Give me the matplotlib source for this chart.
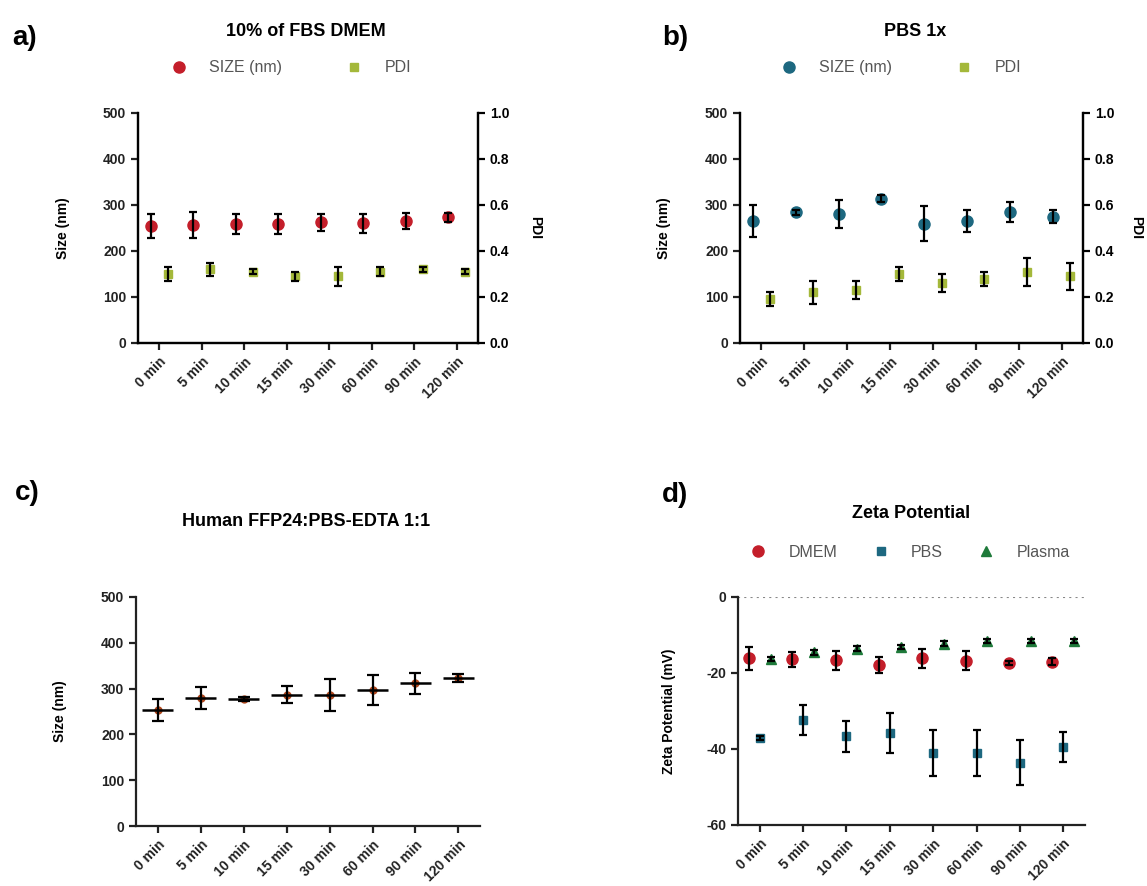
# -*- coding: utf-8 -*-
# Nanoparticle stability: size, PDI and zeta potential over time
import numpy as np
import matplotlib.pyplot as plt
from matplotlib.lines import Line2D

plt.rcParams['font.family'] = ['Liberation Sans', 'DejaVu Sans']
plt.rcParams['font.weight'] = 'bold'
plt.rcParams['axes.labelweight'] = 'bold'

times = ['0 min', '5 min', '10 min', '15 min', '30 min', '60 min', '90 min', '120 min']

# a) 10% FBS DMEM
dmem_size = [255, 256, 258, 258, 262, 260, 265, 273]
dmem_size_sd = [26, 28, 22, 22, 18, 20, 18, 10]
dmem_pdi = [0.30, 0.32, 0.31, 0.29, 0.29, 0.31, 0.32, 0.31]
dmem_pdi_sd = [0.03, 0.03, 0.01, 0.02, 0.04, 0.02, 0.01, 0.01]

# b) PBS 1x
pbs_size = [265, 284, 281, 314, 259, 265, 285, 275]
pbs_size_sd = [35, 5, 30, 8, 38, 24, 22, 15]
pbs_pdi = [0.19, 0.22, 0.23, 0.30, 0.26, 0.28, 0.31, 0.29]
pbs_pdi_sd = [0.03, 0.05, 0.04, 0.03, 0.04, 0.03, 0.06, 0.06]

# c) human plasma
plasma_size = [254, 280, 277, 287, 287, 297, 312, 323]
plasma_size_sd = [24, 24, 5, 19, 35, 33, 23, 8]

# d) zeta potential (mV)
zeta_dmem = [-16.1, -16.4, -16.6, -17.9, -16.1, -16.8, -17.4, -17.0]
zeta_dmem_sd = [3, 2, 2.5, 2, 2.5, 2.5, 0.5, 1]
zeta_pbs = [-37.1, -32.3, -36.7, -35.7, -41.0, -41.0, -43.6, -39.5]
zeta_pbs_sd = [0.5, 4, 4, 5.3, 6, 6, 6, 4]
zeta_plasma = [-16.4, -14.6, -13.6, -13.1, -12.3, -11.6, -11.6, -11.6]
zeta_plasma_sd = [0.5, 0.6, 0.6, 0.6, 0.6, 0.6, 0.6, 0.6]

red = '#c41e2a'
teal = '#1d6880'
olive = '#a4b83a'
green = '#1e7a3a'
brown = '#b24a1f'

W, H = 1147, 886
fig = plt.figure(figsize=(W / 100, H / 100), dpi=100)
x = np.arange(len(times))


def px_axes(left, top, right, bottom):
    # axes box given in pixel coords of the picture
    return fig.add_axes([left / W, 1 - bottom / H, (right - left) / W, (bottom - top) / H])


def style(ax, right=False):
    ax.spines['top'].set_visible(False)
    ax.spines['right'].set_visible(right)
    for s in ax.spines.values():
        s.set_linewidth(1.6)
        s.set_color('#222222')
    ax.tick_params(width=1.6, length=5, labelsize=10, colors='#222222')
    ax.set_xlim(-0.5, len(times) - 0.5)
    ax.set_xticks(x)
    ax.set_xticklabels(times, rotation=45, ha='right', rotation_mode='anchor')


def points(ax, xs, ys, err, color, marker, ms, cap=3):
    ax.plot(xs, ys, ls='none', marker=marker, ms=ms, color=color, zorder=2)
    ax.errorbar(xs, ys, yerr=err, fmt='none', ecolor='black', elinewidth=1.6,
                capsize=cap, capthick=1.6, zorder=3)


def legend(ax, handles, labels, cx, cy, spacing):
    ax.legend(handles, labels, loc='center', bbox_to_anchor=(cx, cy), ncol=len(labels),
              frameon=False, handlelength=1, handletextpad=1.4, columnspacing=spacing,
              prop={'size': 11.5, 'weight': 'normal'}, labelcolor='#555555')


def size_pdi_panel(box, size, size_sd, pdi, pdi_sd, color, title, letter, tx, lettx, lx, legx):
    ax = px_axes(*box)
    style(ax, right=True)
    ax.set_ylim(0, 500)
    ax.set_yticks(range(0, 501, 100))
    points(ax, x - 0.2, size, size_sd, color, 'o', 8)
    ax.set_ylabel('Size (nm)', fontsize=10)
    ax.yaxis.set_label_coords(-0.2, 0.5)
    ax2 = ax.twinx()
    ax2.set_ylim(0, 1.0)
    ax2.set_yticks(np.arange(0, 1.01, 0.2))
    ax2.set_yticklabels(['%.1f' % v for v in np.arange(0, 1.01, 0.2)])
    ax2.spines['top'].set_visible(False)
    for s in ax2.spines.values():
        s.set_linewidth(1.6)
    ax2.tick_params(width=1.6, length=5, labelsize=10)
    points(ax2, x + 0.2, pdi, pdi_sd, olive, 's', 6)
    ax2.set_ylabel('PDI', fontsize=10, rotation=270)
    ax2.yaxis.set_label_coords(lx, 0.5)
    h = [Line2D([], [], ls='none', marker='o', ms=8, color=color),
         Line2D([], [], ls='none', marker='s', ms=6, color=olive)]
    legend(ax, h, ['SIZE (nm)', 'PDI'], legx, 1.196, 4)
    fig.text(tx / W, 1 - 31 / H, title, ha='center', va='center', fontsize=13)
    fig.text(lettx / W, 1 - 38 / H, letter, ha='center', va='center', fontsize=20)
    return ax


size_pdi_panel((138, 113, 478, 343), dmem_size, dmem_size_sd, dmem_pdi, dmem_pdi_sd,
               red, '10% of FBS DMEM', 'a)', 306, 25, 1.19, 0.45)
size_pdi_panel((740, 113, 1083, 343), pbs_size, pbs_size_sd, pbs_pdi, pbs_pdi_sd,
               teal, 'PBS 1x', 'b)', 915, 675, 1.175, 0.47)

# c) plasma: mean line + SD
axc = px_axes(136, 597, 480, 826)
style(axc)
axc.set_ylim(0, 500)
axc.set_yticks(range(0, 501, 100))
axc.hlines(plasma_size, x - 0.35, x + 0.35, color='black', lw=1.8, zorder=3)
points(axc, x, plasma_size, plasma_size_sd, brown, 'o', 5, cap=4.5)
axc.set_ylabel('Size (nm)', fontsize=10)
axc.yaxis.set_label_coords(-0.2, 0.5)
fig.text(306 / W, 1 - 522 / H, 'Human FFP24:PBS-EDTA 1:1', ha='center', va='center', fontsize=13)
fig.text(27 / W, 1 - 493 / H, 'c)', ha='center', va='center', fontsize=20)

# d) zeta potential
axd = px_axes(738, 597, 1085, 825)
style(axd)
axd.set_ylim(-60, 0)
axd.set_yticks([-60, -40, -20, 0])
axd.set_yticklabels(['-60', '-40', '-20', '0'])
axd.axhline(0, color='#888888', ls=(0, (1, 2)), lw=1.5, zorder=1)
points(axd, x - 0.25, zeta_dmem, zeta_dmem_sd, red, 'o', 8)
points(axd, x, zeta_pbs, zeta_pbs_sd, teal, 's', 6)
points(axd, x + 0.25, zeta_plasma, zeta_plasma_sd, green, '^', 7)
axd.set_ylabel('Zeta Potential (mV)', fontsize=10)
axd.yaxis.set_label_coords(-0.18, 0.5)
hd = [Line2D([], [], ls='none', marker='o', ms=8, color=red),
      Line2D([], [], ls='none', marker='s', ms=6, color=teal),
      Line2D([], [], ls='none', marker='^', ms=7, color=green)]
legend(axd, hd, ['DMEM', 'PBS', 'Plasma'], 0.496, 1.197, 2.2)
fig.text(911 / W, 1 - 513 / H, 'Zeta Potential', ha='center', va='center', fontsize=13)
fig.text(675 / W, 1 - 495 / H, 'd)', ha='center', va='center', fontsize=20)

plt.savefig('out.png', dpi=100)
